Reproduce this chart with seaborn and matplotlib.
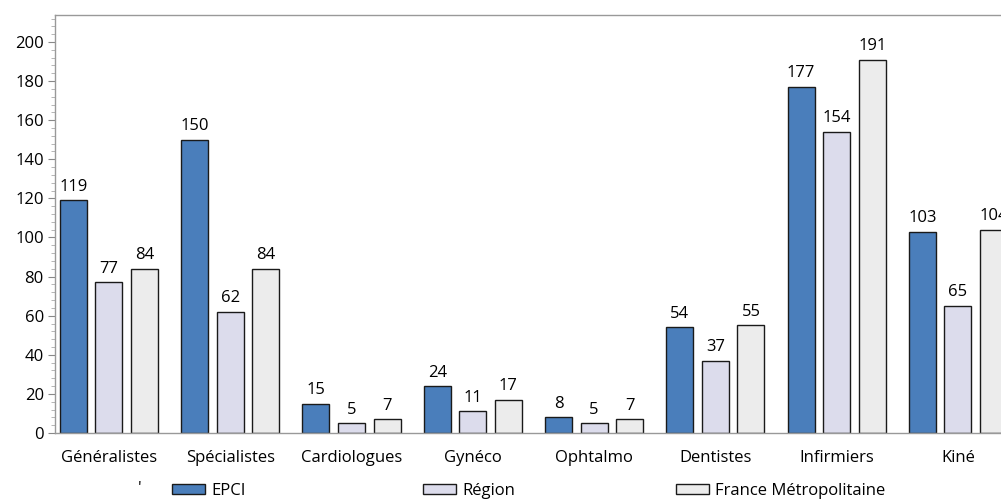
import pandas as pd
import matplotlib.pyplot as plt
import seaborn as sns
from matplotlib.ticker import MultipleLocator
from matplotlib.patches import Patch

categories = ["Généralistes", "Spécialistes", "Cardiologues", "Gynéco",
              "Ophtalmo", "Dentistes", "Infirmiers", "Kiné"]
series = ["EPCI", "Région", "France Métropolitaine"]
epci = [119, 150, 15, 24, 8, 54, 177, 103]
region = [77, 62, 5, 11, 5, 37, 154, 65]
france = [84, 84, 7, 17, 7, 55, 191, 104]
colors = ["#4a7ebb", "#dcdcec", "#ececec"]

df = pd.DataFrame({
    "categorie": categories * 3,
    "serie": [series[0]] * 8 + [series[1]] * 8 + [series[2]] * 8,
    "valeur": epci + region + france,
})

sns.set_style("white")
plt.rcParams["font.family"] = ["Open Sans", "DejaVu Sans"]
plt.rcParams["text.color"] = "black"
plt.rcParams["xtick.color"] = "black"
plt.rcParams["ytick.color"] = "black"

fs = 12

fig = plt.figure(figsize=(10.01, 5.0), dpi=100)
ax = fig.add_axes([0.0549, 0.134, 0.956, 0.836])

sns.barplot(
    data=df,
    x="categorie",
    y="valeur",
    hue="serie",
    palette=colors,
    saturation=1,
    width=0.88,
    gap=0.24,
    edgecolor="#1a1a1a",
    linewidth=1,
    legend=False,
    ax=ax
)

for cont in ax.containers:
    ax.bar_label(cont, padding=4, fontsize=fs, color="black")

ax.set_ylim(0, 213.8)
ax.set_xlim(-0.445, 7.445)
ax.set_xlabel("")
ax.set_ylabel("")

ax.yaxis.set_major_locator(MultipleLocator(20))
ax.yaxis.set_minor_locator(MultipleLocator(4))
ax.tick_params(axis="y", which="major", length=5, color="#888888",
               labelcolor="black", labelsize=fs, pad=3, left=True)
ax.tick_params(axis="y", which="minor", length=3, color="#aaaaaa", left=True)
ax.tick_params(axis="x", length=0, labelsize=fs, labelcolor="black", pad=12)

for s in ["left", "top", "bottom"]:
    ax.spines[s].set_color("#999999")
    ax.spines[s].set_linewidth(1)
ax.spines["right"].set_visible(False)

# legende en bas, une entree par colonne
legend_x = [172, 423, 676]
for name, col, xpix in zip(series, colors, legend_x):
    fig.legend(
        handles=[Patch(facecolor=col, edgecolor="#1a1a1a", linewidth=1)],
        labels=[name],
        loc="center left",
        bbox_to_anchor=(xpix / 1001, 1 - 491 / 500),
        frameon=False,
        fontsize=fs,
        handlelength=2.0,
        handleheight=0.6,
        handletextpad=0.35,
        borderpad=0,
        borderaxespad=0
    )

fig.text(140 / 1001, 1 - 489 / 500, "'", fontsize=fs, ha="center", va="center")

plt.savefig("out.png", dpi=100)
